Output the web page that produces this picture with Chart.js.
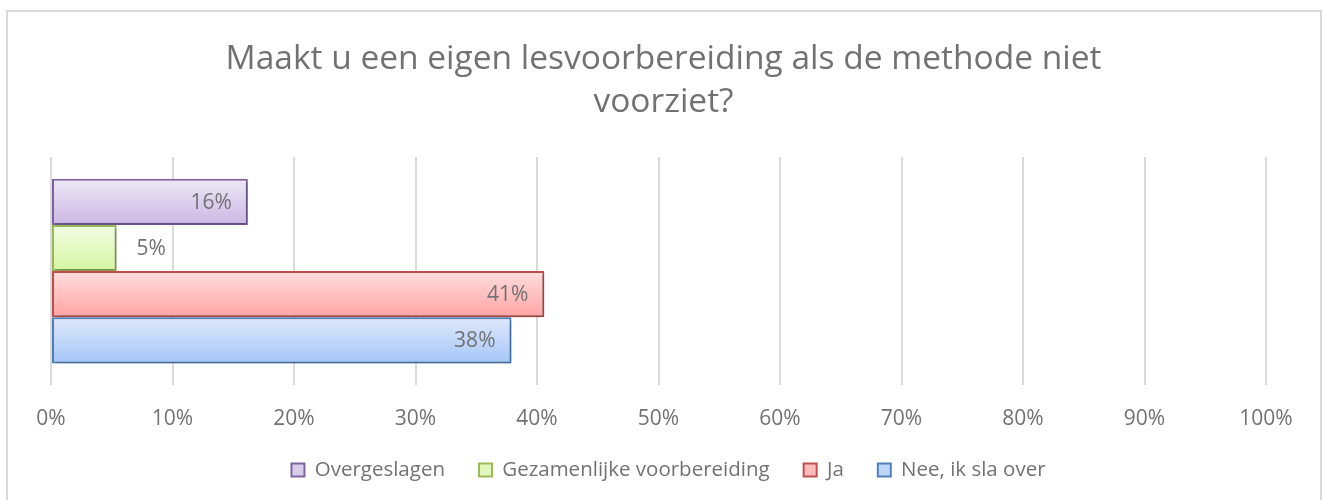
<!DOCTYPE html>
<html lang="nl">
<head>
  <meta charset="UTF-8">
  <title>Lesvoorbereiding</title>
  <script src="https://cdn.jsdelivr.net/npm/chart.js@4.4.0/dist/chart.umd.min.js"></script>
  <style>
    html, body { margin: 0; padding: 0; background: #fff; overflow: hidden; }
    #wrap { position: relative; width: 1323px; height: 500px; }
    #frame {
      position: absolute; left: 6px; top: 10px; width: 1316px; height: 520px;
      border: 2px solid #d9d9d9; box-sizing: border-box;
    }
    #chart { position: absolute; left: 0; top: 0; }
  </style>
</head>
<body>
  <div id="wrap">
    <div id="frame"></div>
    <canvas id="chart" width="1323" height="500"></canvas>
  </div>

  <script>
    // data (percent)
    const seriesNames = ['Overgeslagen', 'Gezamenlijke voorbereiding', 'Ja', 'Nee, ik sla over'];
    const seriesValues = [16.2, 5.4, 40.6, 37.9];
    const categories = [''];
    const xTicks = [0, 10, 20, 30, 40, 50, 60, 70, 80, 90, 100];

    // colours: top of gradient, bottom of gradient, legend box, border
    const topColors = ['#ede7f6', '#f2fce4', '#ffdede', '#dee9fc'];
    const bottomColors = ['#cbb8e3', '#d4f6a2', '#ffa3a3', '#a5c6f8'];
    const legendColors = ['#d8cdeb', '#e0f8bd', '#ffbcbc', '#bed6fa'];
    const borderColors = ['#8064a2', '#9bbb59', '#c0504d', '#4f81bd'];

    const FONT = '"Open Sans", "DejaVu Sans", sans-serif';
    const TEXT = '#727272';

    // gradient fill per bar, from the bar's own box, plus a soft shadow
    const gradientFill = {
      id: 'gradientFill',
      beforeDatasetDraw(chart, args) {
        const ctx = chart.ctx;
        const i = args.index;
        args.meta.data.forEach(el => {
          const h = el.height;
          const g = ctx.createLinearGradient(0, el.y - h / 2, 0, el.y + h / 2);
          g.addColorStop(0, topColors[i]);
          g.addColorStop(1, bottomColors[i]);
          el.options.backgroundColor = g;
        });
        ctx.save();
        ctx.shadowColor = 'rgba(0,0,0,0.28)';
        ctx.shadowBlur = 4;
        ctx.shadowOffsetX = 2;
        ctx.shadowOffsetY = 2;
      },
      afterDatasetDraw(chart) {
        chart.ctx.restore();
      }
    };

    // value labels at the end of each bar
    const valueLabels = {
      id: 'valueLabels',
      afterDatasetsDraw(chart) {
        const ctx = chart.ctx;
        ctx.save();
        ctx.font = '21px ' + FONT;
        ctx.fillStyle = TEXT;
        ctx.textBaseline = 'middle';
        chart.data.datasets.forEach((ds, i) => {
          const meta = chart.getDatasetMeta(i);
          meta.data.forEach((el, j) => {
            const txt = Math.round(ds.data[j]) + '%';
            if (el.x - el.base > 90) {
              ctx.textAlign = 'right';
              ctx.fillText(txt, el.x - 16, el.y + 1);
            } else {
              ctx.textAlign = 'left';
              ctx.fillText(txt, el.x + 20, el.y + 1);
            }
          });
        });
        ctx.restore();
      }
    };

    // tick labels hang below the (thin) x axis box; legend and title sit a bit right of centre
    const layoutTweak = {
      id: 'layoutTweak',
      afterLayout(chart) {
        const sx = chart.scales.x;
        sx.bottom = sx.top + 60;
        chart.legend.left += 10;
        chart.legend.right += 10;
        chart.titleBlock.left += 5;
        chart.titleBlock.right += 5;
      }
    };

    const datasets = seriesNames.map((name, i) => ({
      label: name,
      data: [seriesValues[i]],
      backgroundColor: bottomColors[i],
      borderColor: borderColors[i],
      borderWidth: 2,
      borderSkipped: false,
      categoryPercentage: 0.81,
      barPercentage: 1
    }));

    new Chart(document.getElementById('chart'), {
      type: 'bar',
      data: { labels: categories, datasets: datasets },
      plugins: [gradientFill, valueLabels, layoutTweak],
      options: {
        responsive: false,
        animation: false,
        indexAxis: 'y',
        layout: { padding: { left: 51, right: 57, top: 11, bottom: 9.7 } },
        plugins: {
          tooltip: { enabled: false },
          title: {
            display: true,
            text: ['Maakt u een eigen lesvoorbereiding als de methode niet', 'voorziet?'],
            color: TEXT,
            font: { family: FONT, size: 33.5, weight: 'normal', lineHeight: 1.284 },
            padding: { top: 26.5, bottom: 33.5 }
          },
          legend: {
            position: 'bottom',
            labels: {
              color: TEXT,
              font: { family: FONT, size: 20.5 },
              boxWidth: 13,
              boxHeight: 13,
              padding: 34,
              generateLabels(chart) {
                return chart.data.datasets.map((ds, i) => ({
                  text: ds.label,
                  fillStyle: legendColors[i],
                  strokeStyle: borderColors[i],
                  lineWidth: 2,
                  fontColor: TEXT,
                  datasetIndex: i,
                  hidden: false
                }));
              }
            }
          }
        },
        scales: {
          x: {
            min: 0,
            max: 100,
            afterBuildTicks(scale) {
              scale.ticks = xTicks.map(v => ({ value: v }));
            },
            afterFit(scale) { scale.height = 40.7; },
            grid: { color: '#dadada', lineWidth: 2, drawTicks: false },
            border: { display: false },
            ticks: {
              color: TEXT,
              padding: 21.4,
              font: { family: FONT, size: 21 },
              callback: v => v + '%'
            }
          },
          y: {
            display: false,
            grid: { display: false }
          }
        }
      }
    });
  </script>
</body>
</html>
